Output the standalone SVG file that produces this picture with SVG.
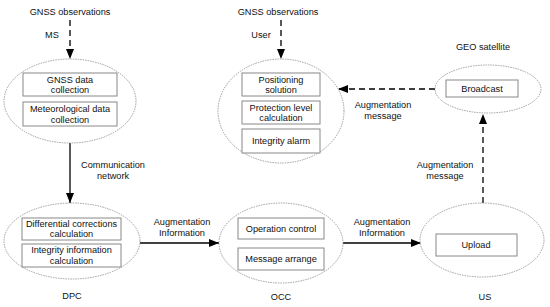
<svg xmlns="http://www.w3.org/2000/svg" width="550" height="307" viewBox="0 0 550 307">
<style>
text{font-family:"Liberation Sans",Arial,sans-serif;font-size:9.2px;fill:#111;text-anchor:middle}
.ell{fill:#fff;stroke:#888;stroke-width:0.8;stroke-dasharray:1.5,1}
.box{fill:#fff;stroke:#888;stroke-width:1}
.ln{fill:none;stroke:#000;stroke-width:1.3}
.dash{stroke-dasharray:6,4}
</style>
<defs>
<marker id="ah" viewBox="0 0 10 8" refX="10" refY="4" markerWidth="10" markerHeight="8" markerUnits="userSpaceOnUse" orient="auto">
<path d="M0,0 L10,4 L0,8 Z" fill="#000"/>
</marker>
</defs>
<g id="connectors">
<line class="ln dash" x1="70" y1="20" x2="70" y2="59" marker-end="url(#ah)"/>
<line class="ln dash" x1="281" y1="20" x2="281" y2="59" marker-end="url(#ah)"/>
<line class="ln dash" x1="435" y1="89" x2="338" y2="89" marker-end="url(#ah)"/>
<line class="ln dash" x1="483" y1="203" x2="483" y2="114" marker-end="url(#ah)"/>
<line class="ln" x1="70" y1="143" x2="70" y2="203" marker-end="url(#ah)"/>
<line class="ln" x1="140" y1="243" x2="219" y2="243" marker-end="url(#ah)"/>
<line class="ln" x1="343" y1="243" x2="421" y2="243" marker-end="url(#ah)"/>
<text x="70" y="15">GNSS observations</text>
<text x="52" y="38">MS</text>
<text x="278" y="15">GNSS observations</text>
<text x="261" y="38">User</text>
<text x="383" y="108">Augmentation</text>
<text x="383" y="119">message</text>
<text x="445" y="168">Augmentation</text>
<text x="445" y="179">message</text>
<text x="113" y="168">Communication</text>
<text x="113" y="179">network</text>
<text x="182" y="225">Augmentation</text>
<text x="182" y="236">Information</text>
<text x="382" y="225">Augmentation</text>
<text x="382" y="236">Information</text>
</g>
<g id="MS">
<ellipse class="ell" cx="70" cy="101" rx="66" ry="42"/>
<rect class="box" x="23" y="73" width="94" height="23"/>
<text x="70" y="83">GNSS data</text>
<text x="70" y="93">collection</text>
<rect class="box" x="23" y="102" width="94" height="24"/>
<text x="70" y="112">Meteorological data</text>
<text x="70" y="122.5">collection</text>
</g>
<g id="User">
<ellipse class="ell" cx="281" cy="111" rx="63" ry="52"/>
<rect class="box" x="242" y="73" width="78" height="23"/>
<text x="281" y="83">Positioning</text>
<text x="281" y="93">solution</text>
<rect class="box" x="242" y="101" width="78" height="23"/>
<text x="281" y="111">Protection level</text>
<text x="281" y="121">calculation</text>
<rect class="box" x="242" y="129" width="78" height="24"/>
<text x="281" y="144">Integrity alarm</text>
</g>
<g id="GEO">
<text x="483" y="50">GEO satellite</text>
<ellipse class="ell" cx="488" cy="89" rx="53" ry="24"/>
<rect class="box" x="446" y="80" width="72" height="17"/>
<text x="482" y="91.5">Broadcast</text>
</g>
<g id="DPC">
<ellipse class="ell" cx="72" cy="241" rx="68" ry="38"/>
<rect class="box" x="22" y="218" width="99" height="22"/>
<text x="71.5" y="227">Differential corrections</text>
<text x="71.5" y="237">calculation</text>
<rect class="box" x="22" y="244" width="99" height="23"/>
<text x="71.5" y="253">Integrity information</text>
<text x="71.5" y="263.5">calculation</text>
<text x="72" y="299">DPC</text>
</g>
<g id="OCC">
<ellipse class="ell" cx="281" cy="243" rx="62" ry="40"/>
<rect class="box" x="238" y="218" width="86" height="21"/>
<text x="281" y="232">Operation control</text>
<rect class="box" x="238" y="248" width="86" height="22"/>
<text x="281" y="262">Message arrange</text>
<text x="281" y="300">OCC</text>
</g>
<g id="US">
<ellipse class="ell" cx="482" cy="240" rx="62" ry="37"/>
<rect class="box" x="436" y="234" width="81" height="22"/>
<text x="476" y="248">Upload</text>
<text x="485" y="300">US</text>
</g>
</svg>
